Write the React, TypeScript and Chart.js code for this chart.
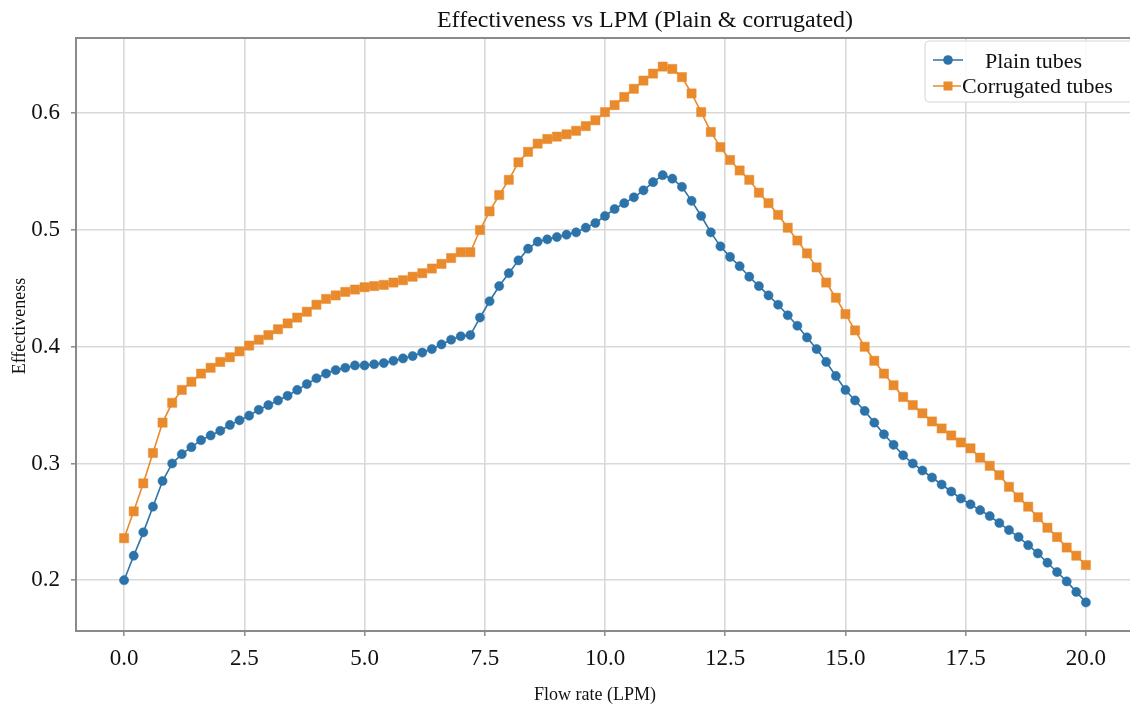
import React, { useEffect, useRef } from "react";
import { Chart, registerables } from "chart.js";

Chart.register(...registerables);

const flowRate = [
  0, 0.2, 0.4, 0.6, 0.8, 1.0, 1.2, 1.4, 1.6, 1.8,
  2.0, 2.2, 2.4, 2.6, 2.8, 3.0, 3.2, 3.4, 3.6, 3.8,
  4.0, 4.2, 4.4, 4.6, 4.8, 5.0, 5.2, 5.4, 5.6, 5.8,
  6.0, 6.2, 6.4, 6.6, 6.8, 7.0, 7.2, 7.4, 7.6, 7.8,
  8.0, 8.2, 8.4, 8.6, 8.8, 9.0, 9.2, 9.4, 9.6, 9.8,
  10.0, 10.2, 10.4, 10.6, 10.8, 11.0, 11.2, 11.4, 11.6, 11.8,
  12.0, 12.2, 12.4, 12.6, 12.8, 13.0, 13.2, 13.4, 13.6, 13.8,
  14.0, 14.2, 14.4, 14.6, 14.8, 15.0, 15.2, 15.4, 15.6, 15.8,
  16.0, 16.2, 16.4, 16.6, 16.8, 17.0, 17.2, 17.4, 17.6, 17.8,
  18.0, 18.2, 18.4, 18.6, 18.8, 19.0, 19.2, 19.4, 19.6, 19.8,
  20.0,
];

const plainTubes = [
  0.200, 0.221, 0.241, 0.263, 0.285, 0.300, 0.308, 0.314, 0.320, 0.324,
  0.328, 0.333, 0.337, 0.341, 0.346, 0.350, 0.354, 0.358, 0.363, 0.368,
  0.373, 0.377, 0.380, 0.382, 0.384, 0.384, 0.385, 0.386, 0.388, 0.390,
  0.392, 0.395, 0.398, 0.402, 0.406, 0.409, 0.410, 0.425, 0.439, 0.452,
  0.463, 0.474, 0.484, 0.490, 0.492, 0.494, 0.496, 0.498, 0.502, 0.506,
  0.512, 0.518, 0.523, 0.528, 0.534, 0.541, 0.547, 0.544, 0.537, 0.525,
  0.512, 0.498, 0.486, 0.477, 0.469, 0.460, 0.452, 0.444, 0.436, 0.427,
  0.418, 0.408, 0.398, 0.387, 0.375, 0.363, 0.354, 0.345, 0.335, 0.325,
  0.316, 0.307, 0.300, 0.294, 0.288, 0.282, 0.276, 0.270, 0.265, 0.260,
  0.255, 0.249, 0.243, 0.237, 0.230, 0.223, 0.215, 0.207, 0.199, 0.190,
  0.181,
];

const corrugatedTubes = [
  0.236, 0.259, 0.283, 0.309, 0.335, 0.352, 0.363, 0.370, 0.377, 0.382,
  0.387, 0.391, 0.396, 0.401, 0.406, 0.410, 0.415, 0.420, 0.425, 0.430,
  0.436, 0.441, 0.444, 0.447, 0.449, 0.451, 0.452, 0.453, 0.455, 0.457,
  0.460, 0.463, 0.467, 0.471, 0.476, 0.481, 0.481, 0.500, 0.516, 0.530,
  0.543, 0.558, 0.567, 0.574, 0.578, 0.580, 0.582, 0.585, 0.589, 0.594,
  0.601, 0.607, 0.614, 0.621, 0.628, 0.634, 0.640, 0.638, 0.631, 0.617,
  0.601, 0.584, 0.571, 0.560, 0.551, 0.543, 0.532, 0.523, 0.513, 0.502,
  0.491, 0.480, 0.468, 0.455, 0.442, 0.428, 0.414, 0.400, 0.388, 0.377,
  0.367, 0.357, 0.350, 0.343, 0.336, 0.330, 0.324, 0.318, 0.313, 0.305,
  0.298, 0.290, 0.280, 0.271, 0.263, 0.254, 0.245, 0.237, 0.228, 0.221,
  0.213,
];

const xTickValues = [0, 2.5, 5, 7.5, 10, 12.5, 15, 17.5, 20];
const yTickValues = [0.2, 0.3, 0.4, 0.5, 0.6];

const titleText = "Effectiveness vs LPM (Plain & corrugated)";
const xLabel = "Flow rate (LPM)";
const yLabel = "Effectiveness";
const seriesNames = ["Plain tubes", "Corrugated tubes"];

const BLUE = "#2c73aa";
const ORANGE = "#e98a2c";
const FONT = '"Liberation Serif", "Times New Roman", "DejaVu Serif", serif';

const CANVAS_W = 1150;
const CANVAS_H = 715;

const decorPlugin = {
  id: "decor",
  afterDraw(chart: any) {
    const { ctx, chartArea: a } = chart;
    ctx.save();
    // frame (spines)
    ctx.strokeStyle = "#8a8a8a";
    ctx.lineWidth = 2;
    ctx.strokeRect(a.left, a.top, a.right - a.left, a.bottom - a.top);

    // title
    ctx.fillStyle = "#111";
    ctx.font = `24px ${FONT}`;
    ctx.textAlign = "center";
    ctx.textBaseline = "alphabetic";
    ctx.fillText(titleText, 645, 27);

    // x label
    ctx.font = `18px ${FONT}`;
    ctx.fillText(xLabel, 595, 700);

    // y label
    ctx.save();
    ctx.translate(20, 326);
    ctx.rotate(-Math.PI / 2);
    ctx.textBaseline = "middle";
    ctx.fillText(yLabel, 0, 0);
    ctx.restore();

    // legend box
    ctx.beginPath();
    const bx = 925, by = 41, bw = 220, bh = 61, r = 4;
    ctx.moveTo(bx + r, by);
    ctx.lineTo(bx + bw - r, by);
    ctx.arcTo(bx + bw, by, bx + bw, by + r, r);
    ctx.lineTo(bx + bw, by + bh - r);
    ctx.arcTo(bx + bw, by + bh, bx + bw - r, by + bh, r);
    ctx.lineTo(bx + r, by + bh);
    ctx.arcTo(bx, by + bh, bx, by + bh - r, r);
    ctx.lineTo(bx, by + r);
    ctx.arcTo(bx, by, bx + r, by, r);
    ctx.closePath();
    ctx.fillStyle = "rgba(255,255,255,0.85)";
    ctx.fill();
    ctx.strokeStyle = "#d6d6d6";
    ctx.lineWidth = 1;
    ctx.stroke();

    // entry 1
    ctx.strokeStyle = BLUE;
    ctx.lineWidth = 1.5;
    ctx.beginPath();
    ctx.moveTo(933, 60);
    ctx.lineTo(963, 60);
    ctx.stroke();
    ctx.fillStyle = BLUE;
    ctx.beginPath();
    ctx.arc(948, 60, 4.8, 0, Math.PI * 2);
    ctx.fill();

    // entry 2
    ctx.strokeStyle = ORANGE;
    ctx.beginPath();
    ctx.moveTo(933, 86);
    ctx.lineTo(961, 86);
    ctx.stroke();
    ctx.fillStyle = ORANGE;
    ctx.fillRect(943.5, 81.5, 9, 9);

    ctx.fillStyle = "#111";
    ctx.font = `22px ${FONT}`;
    ctx.textAlign = "left";
    ctx.textBaseline = "alphabetic";
    ctx.fillText(seriesNames[0], 985, 68);
    ctx.fillText(seriesNames[1], 962, 93);

    ctx.restore();
  },
};

export default function App() {
  const ref = useRef<HTMLCanvasElement | null>(null);

  useEffect(() => {
    document.body.style.margin = "0";
    document.body.style.overflow = "hidden";
    const canvas = ref.current;
    if (!canvas) return;

    const plainData = flowRate.map((x, i) => ({ x, y: plainTubes[i] }));
    const corrData = flowRate.map((x, i) => ({ x, y: corrugatedTubes[i] }));

    const chart = new Chart(canvas, {
      type: "line",
      data: {
        datasets: [
          {
            label: seriesNames[0],
            data: plainData,
            borderColor: BLUE,
            backgroundColor: BLUE,
            borderWidth: 1.6,
            pointStyle: "circle",
            pointRadius: 4.6,
            pointBorderWidth: 0.5,
            pointBorderColor: BLUE,
            pointBackgroundColor: BLUE,
            tension: 0,
            order: 2,
          },
          {
            label: seriesNames[1],
            data: corrData,
            borderColor: ORANGE,
            backgroundColor: ORANGE,
            borderWidth: 1.6,
            pointStyle: "rect",
            pointRadius: 6.5,
            pointBorderWidth: 0.5,
            pointBorderColor: ORANGE,
            pointBackgroundColor: ORANGE,
            tension: 0,
            order: 1,
          },
        ],
      },
      options: {
        responsive: false,
        animation: false,
        devicePixelRatio: 1,
        layout: { padding: { top: 38, right: 16, left: 0, bottom: 0 } },
        plugins: {
          legend: { display: false },
          title: { display: false },
          tooltip: { enabled: false },
        },
        scales: {
          x: {
            type: "linear",
            min: -1,
            max: 21,
            afterBuildTicks: (s: any) => {
              s.ticks = xTickValues.map((v) => ({ value: v }));
            },
            afterFit: (s: any) => {
              s.height = 84;
            },
            border: { display: false },
            grid: {
              color: "#d9d9d9",
              lineWidth: 1.6,
              drawTicks: true,
              tickLength: 5,
              tickColor: "#8a8a8a",
              tickWidth: 1.5,
            },
            ticks: {
              padding: 9,
              color: "#111",
              font: { family: FONT, size: 23 },
              maxRotation: 0,
              callback: (v: any) => Number(v).toFixed(1),
            },
          },
          y: {
            type: "linear",
            min: 0.1565,
            max: 0.6645,
            afterBuildTicks: (s: any) => {
              s.ticks = yTickValues.map((v) => ({ value: v }));
            },
            afterFit: (s: any) => {
              s.width = 76;
            },
            border: { display: false },
            grid: {
              color: "#d9d9d9",
              lineWidth: 1.6,
              drawTicks: true,
              tickLength: 5,
              tickColor: "#8a8a8a",
              tickWidth: 1.5,
            },
            ticks: {
              padding: 11,
              color: "#111",
              font: { family: FONT, size: 23 },
              callback: (v: any) => Number(v).toFixed(1),
            },
          },
        },
      },
      plugins: [decorPlugin],
    });

    return () => chart.destroy();
  }, []);

  return (
    <div style={{ width: 1130, height: 715, overflow: "hidden", background: "#fff" }}>
      <canvas ref={ref} width={CANVAS_W} height={CANVAS_H} style={{ display: "block" }} />
    </div>
  );
}
